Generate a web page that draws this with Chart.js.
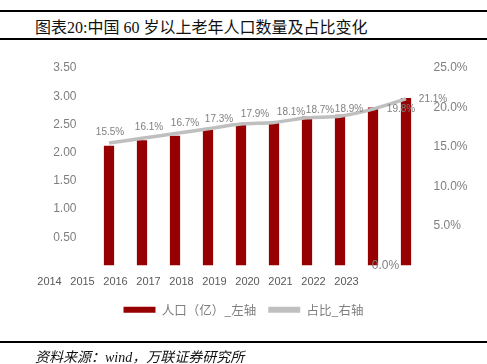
<!DOCTYPE html>
<html>
<head>
<meta charset="utf-8">
<script src="https://cdn.jsdelivr.net/npm/chart.js@4.4.0/dist/chart.umd.min.js"></script>
<style>
  body { margin: 0; width: 487px; height: 364px; position: relative; background: #fff; overflow: hidden; }
  .rule { position: absolute; left: 0; width: 487px; background: #000; }
  #title { position: absolute; left: 35px; top: 14px; font: 16px "Liberation Serif", "Noto Sans CJK SC"; color: #111; white-space: nowrap; }
  #source { position: absolute; left: 35px; top: 346px; font: italic 14px "Liberation Serif", "Noto Sans CJK SC"; color: #111; white-space: nowrap; }
  #chart { position: absolute; left: 0; top: 0; }
</style>
</head>
<body>
<div class="rule" style="top:10px;height:2px"></div>
<div id="title">图表20:中国 60 岁以上老年人口数量及占比变化</div>
<div class="rule" style="top:38px;height:2px"></div>
<canvas id="chart" width="487" height="364"></canvas>
<div class="rule" style="top:341px;height:2px"></div>
<div id="source">资料来源：wind，万联证券研究所</div>
<script>
// 2014-2023
const years = ['2014', '2015', '2016', '2017', '2018', '2019', '2020', '2021', '2022', '2023'];
const population = [2.12, 2.22, 2.30, 2.41, 2.49, 2.54, 2.64, 2.67, 2.80, 2.97]; // 亿
const share = [15.5, 16.1, 16.7, 17.3, 17.9, 18.1, 18.7, 18.9, 19.8, 21.1]; // %

const barColor = '#960000';
const lineColor = '#bfbfbf';
const tickGrey = '#7f7f7f';

// label nudges, like the hand placed ones in the original
const labelDx = [1, 7, 10, 11, 14, 17, 13, 9, 28, 27];
const labelDy = [-11, -11, -10, -10, -10, -10, -8, -7, 0, 0];

const shareLabels = {
  id: 'shareLabels',
  afterDatasetsDraw(chart) {
    const ctx = chart.ctx;
    const meta = chart.getDatasetMeta(1);
    ctx.save();
    ctx.font = '10px "Liberation Sans"';
    ctx.fillStyle = tickGrey;
    ctx.textAlign = 'center';
    ctx.textBaseline = 'middle';
    meta.data.forEach((pt, i) => {
      ctx.fillText(share[i].toFixed(1) + '%', pt.x + labelDx[i], pt.y + labelDy[i]);
    });
    // the zero label of the right axis sits inside the plot in the original
    const y1 = chart.scales.y1;
    ctx.font = '12px "Liberation Sans"';
    ctx.fillText('0.0%', chart.chartArea.right - 37, y1.getPixelForValue(0));
    ctx.restore();
  }
};

new Chart(document.getElementById('chart').getContext('2d'), {
  data: {
    labels: years,
    datasets: [{
      type: 'bar',
      label: '人口（亿）_左轴',
      data: population,
      backgroundColor: barColor,
      barPercentage: 0.62,
      categoryPercentage: 0.5,
      yAxisID: 'y',
      order: 1
    }, {
      type: 'line',
      label: '占比_右轴',
      data: share,
      borderColor: lineColor,
      backgroundColor: lineColor,
      borderWidth: 3.5,
      pointRadius: 0,
      tension: 0.3,
      yAxisID: 'y1',
      order: 0
    }]
  },
  options: {
    responsive: false,
    animation: false,
    layout: { padding: { top: 68, bottom: 38, left: 0, right: 0 } },
    plugins: {
      tooltip: { enabled: false },
      legend: {
        position: 'bottom',
        labels: {
          boxWidth: 32,
          boxHeight: 6,
          padding: 12,
          color: tickGrey,
          font: { size: 12.5, family: '"Noto Sans CJK SC"' },
          sort: (a, b) => a.datasetIndex - b.datasetIndex,
          generateLabels(chart) {
            const items = Chart.defaults.plugins.legend.labels.generateLabels(chart);
            items.forEach(it => { it.lineWidth = 0; });
            return items;
          }
        }
      }
    },
    scales: {
      x: {
        grid: { display: false },
        border: { display: false },
        ticks: {
          color: '#595959',
          font: { size: 11, family: '"Liberation Sans"' },
          labelOffset: -59.5,
          padding: 2,
          maxRotation: 0,
          autoSkip: false
        },
        afterFit(s) { s.height = 26; }
      },
      y: {
        position: 'left',
        min: 0,
        max: 3.5,
        grid: { display: false, drawTicks: false },
        border: { display: false },
        ticks: {
          stepSize: 0.5,
          color: tickGrey,
          padding: 16,
          font: { size: 12, family: '"Liberation Sans"' },
          callback: v => (v === 0 ? '' : v.toFixed(2))
        },
        afterFit(s) { s.width = 92.5; }
      },
      y1: {
        position: 'right',
        min: 0,
        max: 25,
        grid: { display: false, drawTicks: false },
        border: { display: false },
        ticks: {
          stepSize: 5,
          color: tickGrey,
          padding: 11,
          font: { size: 12, family: '"Liberation Sans"' },
          callback: v => (v === 0 ? '' : v.toFixed(1) + '%')
        },
        afterFit(s) { s.width = 64.5; }
      }
    }
  },
  plugins: [shareLabels]
});
</script>
</body>
</html>
